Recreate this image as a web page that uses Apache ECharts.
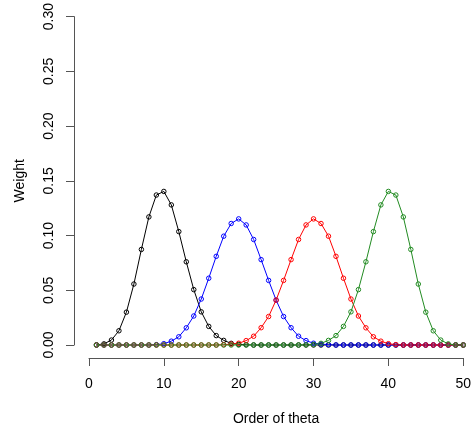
<!DOCTYPE html>
<html>
<head>
<meta charset="utf-8">
<script src="https://cdn.jsdelivr.net/npm/echarts@6/dist/echarts.min.js"></script>
<style>
  html, body { margin: 0; padding: 0; background: #fff; }
  #main { width: 474px; height: 433px; }
</style>
</head>
<body>
<div id="main"></div>
<script>
// order of theta (x)
var order = [1,2,3,4,5,6,7,8,9,10,11,12,13,14,15,16,17,18,19,20,
             21,22,23,24,25,26,27,28,29,30,31,32,33,34,35,36,37,38,39,40,
             41,42,43,44,45,46,47,48,49,50];

// weights
var wBlack = [0.0001,0.001,0.0045,0.013,0.030,0.0557,0.0873,0.117,0.137,0.1403,
              0.128,0.1036,0.076,0.0506,0.0303,0.017,0.0086,0.0042,0.0015,0.0005,
              0.0002,0,0,0,0,0,0,0,0,0, 0,0,0,0,0,0,0,0,0,0, 0,0,0,0,0,0,0,0,0,0];
var wBlue  = [0,0,0,0,0,0,0,0,0.0003,0.0012,
              0.0035,0.0075,0.0157,0.0265,0.042,0.061,0.081,0.0994,0.111,0.1152,
              0.1097,0.0964,0.078,0.059,0.041,0.026,0.0158,0.008,0.004,0.0016,
              0.0008,0.0003,0,0,0,0,0,0,0,0, 0,0,0,0,0,0,0,0,0,0];
var wRed   = [0,0,0,0,0,0,0,0,0,0, 0,0,0,0,0,0,0,0.0003,0.0008,0.0016,
              0.004,0.008,0.0158,0.026,0.041,0.059,0.078,0.0964,0.1097,0.1152,
              0.111,0.0994,0.081,0.061,0.042,0.0265,0.0157,0.0075,0.0035,0.0012,
              0.0003,0,0,0,0,0,0,0,0,0];
var wGreen = [0,0,0,0,0,0,0,0,0,0, 0,0,0,0,0,0,0,0,0,0,
              0,0,0,0,0,0,0,0,0.0002,0.0005,
              0.0015,0.0042,0.0086,0.017,0.0303,0.0506,0.076,0.1036,0.128,0.1403,
              0.137,0.117,0.0873,0.0557,0.030,0.013,0.0045,0.001,0.0001,0];

var xTicks = [0,10,20,30,40,50];
var yTicks = [0,0.05,0.10,0.15,0.20,0.25,0.30];

function pairs(w){
	var out = [];
	for (var i = 0; i < order.length; i++) out.push([order[i], w[i]]);
	return out;
}

function line(w, c){
	return {
		type: 'line',
		data: pairs(w),
		symbol: 'circle',
		symbolSize: 4.5,
		clip: false,
		lineStyle: { color: c, width: 1 },
		itemStyle: { color: 'rgba(0,0,0,0)', borderColor: c, borderWidth: 1 },
		emphasis: { disabled: true }
	};
}

var axisCol = '#555';
var font = 'Liberation Sans, Arial, sans-serif';

var myChart = echarts.init(document.getElementById('main'));
myChart.setOption({
	animation: false,
	grid: { left: 89, top: 15, width: 377.5, height: 330 },
	xAxis: {
		type: 'value',
		min: xTicks[0], max: xTicks[xTicks.length - 1], interval: 10,
		offset: 13,
		name: 'Order of theta',
		nameLocation: 'middle',
		nameGap: 54,
		nameTextStyle: { fontFamily: font, fontSize: 14, color: '#000' },
		axisLine: { show: true, onZero: false, lineStyle: { color: axisCol, width: 1 } },
		axisTick: { show: true, length: 8, lineStyle: { color: axisCol } },
		axisLabel: { margin: 19, fontFamily: font, fontSize: 14, color: '#000' },
		splitLine: { show: false }
	},
	yAxis: {
		type: 'value',
		min: yTicks[0], max: yTicks[yTicks.length - 1], interval: 0.05,
		offset: 15,
		name: 'Weight',
		nameLocation: 'middle',
		nameGap: 47,
		nameRotate: 90,
		nameTextStyle: { fontFamily: font, fontSize: 14, color: '#000' },
		axisLine: { show: true, onZero: false, lineStyle: { color: axisCol, width: 1 } },
		axisTick: { show: true, length: 8, lineStyle: { color: axisCol } },
		axisLabel: {
			margin: 18, rotate: 90, fontFamily: font, fontSize: 14, color: '#000',
			formatter: function (v) { return v.toFixed(2); }
		},
		splitLine: { show: false }
	},
	series: [
		line(wBlack, '#000000'),
		line(wBlue, '#0000ff'),
		line(wRed, '#ff0000'),
		line(wGreen, '#228b22')
	]
});
</script>
</body>
</html>
